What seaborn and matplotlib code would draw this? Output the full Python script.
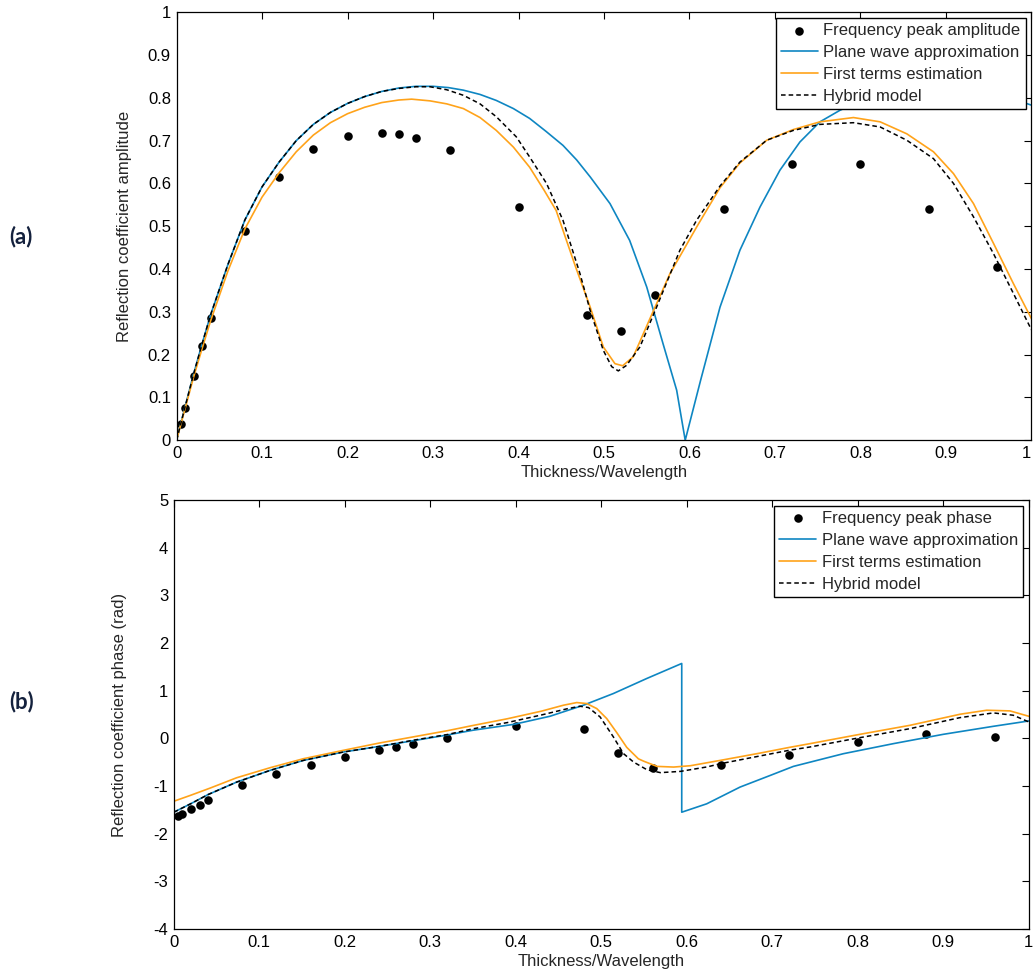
import numpy as np
import matplotlib
matplotlib.use('Agg')
import matplotlib.pyplot as plt
import seaborn as sns

sns.set_style('white')
plt.rcParams['font.family'] = ['Liberation Sans', 'DejaVu Sans']
plt.rcParams['axes.unicode_minus'] = False

# measured points (same thickness/wavelength for amplitude and phase)
meas_x = [0.005, 0.01, 0.02, 0.03, 0.04, 0.08, 0.12, 0.16, 0.20, 0.24, 0.26,
          0.28, 0.32, 0.40, 0.48, 0.52, 0.56, 0.64, 0.72, 0.80, 0.88, 0.96]
meas_amp = [0.037, 0.075, 0.15, 0.22, 0.285, 0.49, 0.615, 0.681, 0.712, 0.718, 0.715,
            0.707, 0.679, 0.544, 0.293, 0.255, 0.34, 0.541, 0.646, 0.646, 0.541, 0.404]
meas_phase = [-1.63, -1.58, -1.48, -1.39, -1.30, -0.98, -0.74, -0.55, -0.385, -0.25, -0.18,
              -0.12, 0.0, 0.25, 0.19, -0.31, -0.62, -0.56, -0.34, -0.08, 0.10, 0.03]

# amplitude curves
pw_amp_x = [0, 0.01, 0.02, 0.03, 0.04, 0.06, 0.08, 0.10, 0.12, 0.14, 0.16, 0.18, 0.20,
            0.22, 0.24, 0.26, 0.28, 0.30, 0.318, 0.3355, 0.355, 0.374, 0.394, 0.413, 0.432,
            0.452, 0.468, 0.484, 0.507, 0.530, 0.550, 0.569, 0.585, 0.595, 0.613, 0.6357,
            0.659, 0.6825, 0.7058, 0.7292, 0.7526, 0.776, 0.80, 0.85, 0.90, 0.95, 0.994, 1.0]
pw_amp_y = [0, 0.078, 0.155, 0.226, 0.294, 0.41, 0.515, 0.592, 0.650, 0.700, 0.738, 0.766,
            0.787, 0.803, 0.815, 0.823, 0.827, 0.827, 0.824, 0.818, 0.808, 0.794, 0.775,
            0.752, 0.722, 0.689, 0.655, 0.615, 0.553, 0.467, 0.358, 0.226, 0.117, 0.0, 0.14,
            0.311, 0.444, 0.545, 0.631, 0.697, 0.744, 0.771, 0.792, 0.818, 0.826, 0.812,
            0.787, 0.783]

ft_amp_x = [0, 0.01, 0.02, 0.03, 0.04, 0.06, 0.08, 0.10, 0.12, 0.14, 0.16, 0.18, 0.20,
            0.22, 0.24, 0.26, 0.275, 0.2965, 0.316, 0.3355, 0.355, 0.374, 0.394, 0.413, 0.43,
            0.444, 0.4668, 0.4837, 0.4992, 0.5128, 0.5218, 0.5342, 0.5537, 0.5771, 0.6083,
            0.6357, 0.659, 0.6903, 0.7215, 0.7526, 0.7918, 0.823, 0.8542, 0.8854, 0.9088,
            0.9322, 0.9556, 0.9789, 1.0]
ft_amp_y = [0, 0.074, 0.148, 0.215, 0.280, 0.395, 0.494, 0.568, 0.625, 0.674, 0.713, 0.742,
            0.763, 0.778, 0.789, 0.795, 0.797, 0.793, 0.786, 0.775, 0.754, 0.724, 0.685,
            0.638, 0.584, 0.537, 0.405, 0.312, 0.218, 0.179, 0.174, 0.195, 0.284, 0.389,
            0.498, 0.59, 0.648, 0.701, 0.726, 0.744, 0.754, 0.744, 0.716, 0.674, 0.623,
            0.553, 0.460, 0.366, 0.284]

hy_amp_x = [0, 0.01, 0.02, 0.03, 0.04, 0.06, 0.08, 0.10, 0.12, 0.14, 0.16, 0.18, 0.20,
            0.22, 0.24, 0.26, 0.28, 0.2965, 0.316, 0.3355, 0.355, 0.374, 0.3974, 0.413,
            0.4328, 0.452, 0.4718, 0.4837, 0.4992, 0.509, 0.5167, 0.5264, 0.542, 0.5615,
            0.5888, 0.6083, 0.6357, 0.659, 0.6903, 0.7215, 0.7526, 0.7918, 0.823, 0.8542,
            0.8854, 0.9088, 0.9322, 0.9556, 0.9789, 1.0]
hy_amp_y = [0, 0.078, 0.155, 0.226, 0.294, 0.41, 0.515, 0.592, 0.650, 0.700, 0.738, 0.766,
            0.787, 0.803, 0.815, 0.822, 0.826, 0.826, 0.819, 0.806, 0.786, 0.756, 0.709,
            0.662, 0.600, 0.514, 0.390, 0.304, 0.210, 0.172, 0.162, 0.175, 0.218, 0.311,
            0.444, 0.514, 0.594, 0.650, 0.701, 0.724, 0.738, 0.742, 0.732, 0.701, 0.658,
            0.600, 0.522, 0.436, 0.343, 0.258]

# phase curves
pw_ph_x = [0, 0.02, 0.04, 0.0735, 0.1125, 0.1515, 0.1983, 0.24, 0.28, 0.32, 0.35, 0.398,
           0.44, 0.479, 0.514, 0.553, 0.594, 0.594, 0.6232, 0.6622, 0.6973, 0.7246, 0.783,
           0.8415, 0.90, 0.9585, 1.0]
pw_ph_y = [-1.55, -1.37, -1.18, -0.918, -0.673, -0.463, -0.287, -0.17, -0.05, 0.07, 0.17,
           0.294, 0.463, 0.694, 0.939, 1.254, 1.57, -1.55, -1.374, -1.023, -0.78, -0.589,
           -0.323, -0.112, 0.084, 0.252, 0.364]

ft_ph_x = [0, 0.0189, 0.0423, 0.0735, 0.1125, 0.1515, 0.1983, 0.24, 0.28, 0.32, 0.35, 0.39,
           0.43, 0.4556, 0.4712, 0.4829, 0.4946, 0.5063, 0.518, 0.5297, 0.5433, 0.5495,
           0.5651, 0.5846, 0.6041, 0.64, 0.6856, 0.72, 0.744, 0.8025, 0.861, 0.9195, 0.9507,
           0.9779, 1.0]
ft_ph_y = [-1.32, -1.20, -1.045, -0.827, -0.617, -0.428, -0.252, -0.10, 0.03, 0.16, 0.27,
           0.41, 0.57, 0.694, 0.75, 0.729, 0.624, 0.414, 0.12, -0.19, -0.43, -0.48, -0.589,
           -0.603, -0.575, -0.46, -0.31, -0.19, -0.112, 0.084, 0.273, 0.505, 0.589, 0.575,
           0.462]

hy_ph_x = [0, 0.02, 0.04, 0.0735, 0.1125, 0.1515, 0.1983, 0.24, 0.28, 0.32, 0.35, 0.39,
           0.43, 0.46, 0.475, 0.485, 0.4985, 0.5141, 0.5258, 0.5378, 0.5534, 0.569, 0.5924,
           0.6236, 0.64, 0.6856, 0.72, 0.744, 0.8025, 0.861, 0.9195, 0.9585, 0.9818, 1.0]
hy_ph_y = [-1.55, -1.37, -1.18, -0.918, -0.673, -0.463, -0.287, -0.17, -0.04, 0.08, 0.20,
           0.33, 0.49, 0.62, 0.673, 0.645, 0.449, 0.028, -0.32, -0.50, -0.66, -0.72, -0.694,
           -0.60, -0.53, -0.37, -0.25, -0.182, 0.014, 0.203, 0.434, 0.533, 0.484, 0.343]

BLUE = '#0E86C2'
ORANGE = '#FFA31A'

fig = plt.figure(figsize=(10.33, 9.74), dpi=100)
ax1 = fig.add_axes([0.1709, 0.548, 0.8276, 0.4394])
ax2 = fig.add_axes([0.1683, 0.0462, 0.8277, 0.4405])


def draw(ax, y_meas, curves, dot_label):
    sns.scatterplot(x=meas_x, y=y_meas, ax=ax, color='black', s=38, linewidth=0,
                    label=dot_label, zorder=1)
    (px, py), (fx, fy), (hx, hy) = curves
    sns.lineplot(x=px, y=py, ax=ax, color=BLUE, lw=1.2, sort=False, estimator=None,
                 label='Plane wave approximation')
    sns.lineplot(x=fx, y=fy, ax=ax, color=ORANGE, lw=1.2, sort=False, estimator=None,
                 label='First terms estimation')
    sns.lineplot(x=hx, y=hy, ax=ax, color='black', lw=1.1, sort=False, estimator=None,
                 linestyle=(0, (3, 2)), label='Hybrid model')
    h, l = ax.get_legend_handles_labels()
    leg = ax.legend(h, l, loc='upper right', fontsize=12, frameon=True, fancybox=False,
                    edgecolor='black', framealpha=1, borderaxespad=0.35, borderpad=0.3,
                    labelspacing=0.42, handlelength=2.2, handletextpad=0.35)
    leg.get_frame().set_linewidth(1.0)
    ax.set_xlim(0, 1)
    xt = np.round(np.arange(0, 1.01, 0.1), 1)
    ax.set_xticks(xt)
    ax.set_xticklabels([f'{v:g}' for v in xt])
    ax.set_xlabel('Thickness/Wavelength', fontsize=12, labelpad=3)
    ax.tick_params(direction='in', top=True, right=True, length=5, width=0.8,
                   labelsize=12, pad=4, colors='black')
    for sp in ax.spines.values():
        sp.set_visible(True)
        sp.set_color('black')
        sp.set_linewidth(0.9)


draw(ax1, meas_amp, [(pw_amp_x, pw_amp_y), (ft_amp_x, ft_amp_y), (hy_amp_x, hy_amp_y)],
     'Frequency peak amplitude')
ax1.set_ylim(0, 1)
yt = np.round(np.arange(0, 1.01, 0.1), 1)
ax1.set_yticks(yt)
ax1.set_yticklabels([f'{v:g}' for v in yt])
ax1.set_ylabel('Reflection coefficient amplitude', fontsize=12)
ax1.yaxis.set_label_coords(-0.052, 0.5)
# keep the last tick label inside the figure edge
ax1.get_xticklabels()[-1].set_horizontalalignment('right')

draw(ax2, meas_phase, [(pw_ph_x, pw_ph_y), (ft_ph_x, ft_ph_y), (hy_ph_x, hy_ph_y)],
     'Frequency peak phase')
ax2.set_ylim(-4, 5)
ax2.set_yticks(range(-4, 6))
ax2.set_ylabel('Reflection coefficient phase (rad)', fontsize=12)
ax2.yaxis.set_label_coords(-0.0547, 0.5)

fig.text(0.009, 1 - 237 / 974, '(a)', fontsize=16, fontweight='bold', color='#14213d',
         family=['Lato', 'DejaVu Sans'], va='center', ha='left')
fig.text(0.009, 1 - 702 / 974, '(b)', fontsize=16, fontweight='bold', color='#14213d',
         family=['Lato', 'DejaVu Sans'], va='center', ha='left')

fig.savefig('out.png', dpi=100, facecolor='white')
